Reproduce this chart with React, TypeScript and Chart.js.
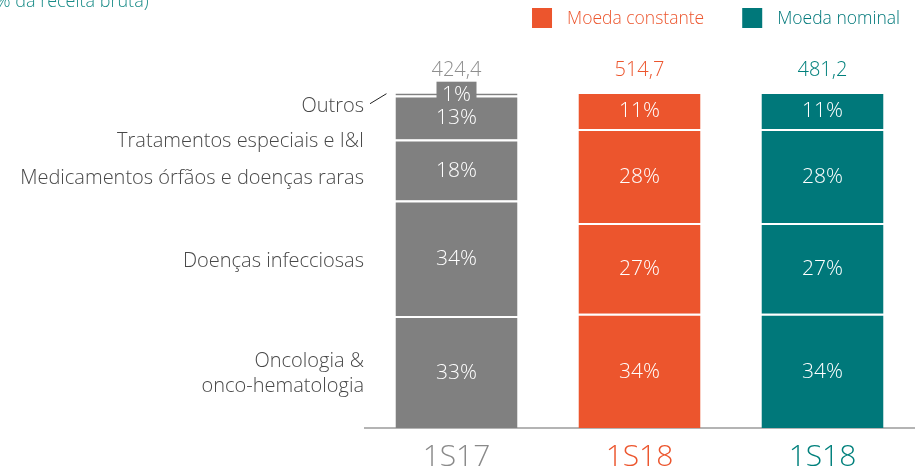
import { useEffect, useRef } from 'react';
import { Chart, registerables } from 'chart.js';

Chart.register(...registerables);

// ---- data ----
const periods = ['1S17', '1S18', '1S18'];
const periodColors = ['#808080', '#EC552D', '#00787A'];
const tickColors = ['#8A8A8A', '#EC552D', '#00807C'];
const totals = ['424,4', '514,7', '481,2'];
const totalColors = ['#8E8E8E', '#EC552D', '#00807C'];

const segmentNames = [
  ['Oncologia &', 'onco-hematologia'],
  ['Doenças infecciosas'],
  ['Medicamentos órfãos e doenças raras'],
  ['Tratamentos especiais e I&I'],
  ['Outros'],
];
const oncologia = [33, 34, 34];
const infecciosas = [34, 27, 27];
const orfaos = [18, 28, 28];
const tratamentos = [13, 11, 11];
const outros = [1, 0, 0];
const segmentValues = [oncologia, infecciosas, orfaos, tratamentos, outros];

const legendLabels = ['Moeda constante', 'Moeda nominal'];
const legendColors = ['#EC552D', '#00787A'];
const subtitle = '% da receita bruta)';

// ---- layout (pixels) ----
const nameOffsets = [2, 3, 8, 24, 13];
const FONT = '"Open Sans", "Noto Sans", sans-serif';

const barTotals = periods.map((_, j) => segmentValues.reduce((s, arr) => s + arr[j], 0));

const overlayPlugin = {
  id: 'overlay',
  afterDatasetsDraw(chart: any) {
    const ctx = chart.ctx as CanvasRenderingContext2D;
    const area = chart.chartArea;
    const yScale = chart.scales.y;
    ctx.save();

    // segment value labels
    ctx.textAlign = 'center';
    ctx.textBaseline = 'middle';
    ctx.font = `300 21px ${FONT}`;
    segmentValues.forEach((vals, i) => {
      const meta = chart.getDatasetMeta(i);
      meta.data.forEach((el: any, j: number) => {
        const v = vals[j];
        if (!v) return;
        const cy = (el.y + el.base) / 2;
        const h = Math.abs(el.base - el.y);
        if (h < 20) {
          ctx.fillStyle = periodColors[j];
          ctx.fillRect(el.x - 20, cy - 12, 40, 24);
        }
        ctx.fillStyle = '#FFFFFF';
        ctx.fillText(`${v}%`, el.x, cy + 1);
      });
    });

    // totals above bars
    ctx.font = `300 20px ${FONT}`;
    const topY = yScale.getPixelForValue(100);
    chart.getDatasetMeta(0).data.forEach((el: any, j: number) => {
      ctx.fillStyle = totalColors[j];
      ctx.fillText(totals[j], el.x, topY - 22);
    });

    // segment names on the left of first bar
    ctx.font = `300 20px ${FONT}`;
    ctx.textAlign = 'right';
    ctx.fillStyle = '#484848';
    segmentNames.forEach((lines, i) => {
      const el = chart.getDatasetMeta(i).data[0];
      if (!el) return;
      const cy = (el.y + el.base) / 2;
      const ly = cy + nameOffsets[i];
      const lh = 25;
      lines.forEach((line, k) => {
        ctx.fillText(line, area.left - 1, ly + (k - (lines.length - 1) / 2) * lh);
      });
      if (i === segmentNames.length - 1) {
        const barLeft = el.x - el.width / 2;
        ctx.strokeStyle = '#222';
        ctx.lineWidth = 1;
        ctx.beginPath();
        ctx.moveTo(area.left + 5, ly - 3);
        ctx.lineTo(barLeft - 9, cy);
        ctx.stroke();
      }
    });

    // legend (top right)
    ctx.font = `300 17.5px ${FONT}`;
    ctx.textAlign = 'left';
    let x = 900;
    const positions: number[] = [];
    for (let k = legendLabels.length - 1; k >= 0; k--) {
      const w = ctx.measureText(legendLabels[k]).width;
      const textX = x - w;
      positions[k] = textX;
      x = textX - 15 - 20 - 38;
    }
    legendLabels.forEach((lab, k) => {
      const tx = positions[k];
      ctx.fillStyle = legendColors[k];
      ctx.fillRect(tx - 35, 8, 20, 20);
      ctx.fillText(lab, tx, 19);
    });

    // cut subtitle top-left
    ctx.fillStyle = '#1A8C88';
    ctx.textBaseline = 'alphabetic';
    ctx.font = `300 18px ${FONT}`;
    ctx.fillText(subtitle, -4, 7);

    ctx.restore();
  },
};

export default function App() {
  const ref = useRef<HTMLCanvasElement | null>(null);

  useEffect(() => {
    document.body.style.margin = '0';
    const canvas = ref.current!;
    const chart = new Chart(canvas, {
      type: 'bar',
      data: {
        labels: periods,
        datasets: segmentValues.map((vals, i) => ({
          label: segmentNames[i].join(' '),
          data: vals.map((v, j) => (v / barTotals[j]) * 100),
          backgroundColor: periodColors,
          borderColor: '#FFFFFF',
          borderWidth: { top: 2, left: 0, right: 0, bottom: 0 },
          borderSkipped: false,
          categoryPercentage: 1,
          barPercentage: 0.667,
        })),
      },
      options: {
        animation: false,
        responsive: false,
        devicePixelRatio: 1,
        layout: { padding: { top: 92, left: 365, right: 8, bottom: 0 } },
        plugins: {
          legend: { display: false },
          tooltip: { enabled: false },
          title: { display: false },
        },
        scales: {
          x: {
            stacked: true,
            grid: { display: false, drawTicks: false },
            border: { display: true, color: '#B4B4B4', width: 2 },
            ticks: {
              padding: 11,
              font: { family: FONT, size: 30, weight: '300' },
              color: (c: any) => tickColors[c.index],
            },
            afterFit: (s: any) => {
              s.height = 38;
            },
          },
          y: {
            stacked: true,
            display: false,
            min: 0,
            max: 100,
          },
        },
      },
      plugins: [overlayPlugin],
    });
    return () => chart.destroy();
  }, []);

  return (
    <div style={{ position: 'absolute', left: 0, top: 0, width: 922, height: 466 }}>
      <canvas ref={ref} width={922} height={466} />
    </div>
  );
}
